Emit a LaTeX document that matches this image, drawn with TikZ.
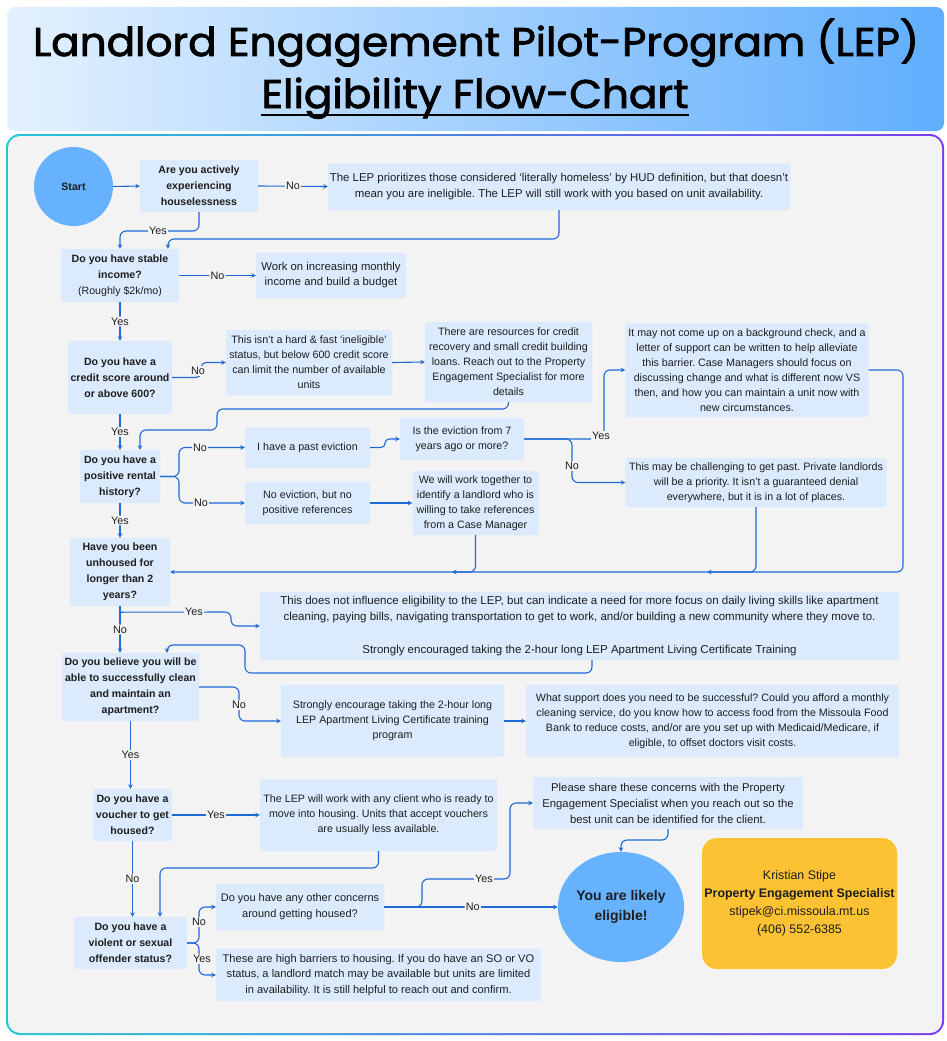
\documentclass[tikz,border=0pt]{standalone}
\usepackage{fontspec}
\setmainfont{Liberation Sans}
\newfontfamily\titlefont[FakeBold=2]{Poppins}
\usetikzlibrary{shapes.geometric,arrows.meta}
\frenchspacing
\definecolor{boxc}{HTML}{DBEAFD}
\definecolor{panelc}{HTML}{F3F3F3}
\definecolor{linec}{HTML}{1F6AD8}
\definecolor{startc}{HTML}{66B2FF}
\definecolor{contactc}{HTML}{FCC233}
\definecolor{txt}{HTML}{1E1E1E}
\definecolor{hdrL}{HTML}{E4F1FE}
\definecolor{hdrR}{HTML}{60AEFD}
\definecolor{bordL}{HTML}{22C7D6}
\definecolor{bordR}{HTML}{7C3AED}
\newcommand\fsz[2]{\fontsize{#1pt}{#2pt}\selectfont}
\tikzset{
  box/.style={fill=boxc, rounded corners=2pt, align=center, inner sep=0pt, text=txt, font=\fsz{10.7}{15}},
  qbox/.style={box, font=\bfseries\fsz{10.6}{16}},
  conn/.style={draw=linec, line width=1.1pt, rounded corners=6pt},
  arr/.style={conn, -{Stealth[length=4.5pt,width=4.5pt]}},
  lab/.style={fill=panelc, inner sep=1.2pt, font=\fsz{10.8}{12}, text=txt},
}
\begin{document}
\frenchspacing
\begin{tikzpicture}[x=1pt,y=-1pt]
\useasboundingbox (0,0) rectangle (947,1041);
\fill[white] (0,0) rectangle (947,1041);
% header
\shade[left color=hdrL, right color=hdrR, rounded corners=8pt] (7,7) rectangle (944,131);
\node[anchor=base, inner sep=0pt] (t1) at (476,56) {\resizebox{886pt}{\height}{\titlefont\fsz{40}{40}Landlord Engagement Pilot-Program (LEP)}};
\node[anchor=base, inner sep=0pt] (t2) at (475,108) {\resizebox{427pt}{\height}{\titlefont\fsz{40}{40}Eligibility Flow-Chart}};
\draw[line width=2.4pt] ([yshift=-7pt]t2.base west) -- ([yshift=-7pt]t2.base east);
% panel
\shade[left color=bordL, right color=bordR, rounded corners=14pt] (6,134) rectangle (944,1035);
\fill[panelc, rounded corners=12pt] (8,136) rectangle (942,1033);

% nodes
\node[circle, fill=startc, minimum size=79pt, inner sep=0pt, text=txt, font=\bfseries\fsz{10.6}{13}] (start) at (73.5,186.5) {Start};
\node[qbox, minimum width=118pt, minimum height=52pt] (q1) at (199,186) {Are you actively\\experiencing\\houselessness};
\node[box, minimum width=462pt, minimum height=47pt, font=\fsz{11.4}{16}] (n1) at (559,186.5) {The LEP prioritizes those considered ‘literally homeless’ by HUD definition, but that doesn’t\\mean you are ineligible. The LEP will still work with you based on unit availability.};
\node[qbox, minimum width=118pt, minimum height=53pt] (q2) at (120,275.5) {Do you have stable\\income?\\\mdseries(Roughly \$2k/mo)};
\node[box, minimum width=150pt, minimum height=45pt, font=\fsz{11.3}{15}] (n2) at (331,275.5) {Work on increasing monthly\\income and build a budget};
\node[qbox, minimum width=104pt, minimum height=73pt] (q3) at (120,377.5) {Do you have a\\credit score around\\or above 600?};
\node[box, minimum width=166pt, minimum height=65pt] (n3a) at (309,362.5) {This isn’t a hard \& fast ‘ineligible’\\status, but below 600 credit score\\can limit the number of available\\units};
\node[box, minimum width=167pt, minimum height=80pt] (n3b) at (508.5,362) {There are resources for credit\\recovery and small credit building\\loans. Reach out to the Property\\Engagement Specialist for more\\details};
\node[qbox, minimum width=80pt, minimum height=53pt] (q4) at (120,476.5) {Do you have a\\positive rental\\history?};
\node[box, minimum width=125pt, minimum height=41pt] (n4a) at (307.5,447.5) {I have a past eviction};
\node[box, minimum width=124pt, minimum height=42pt] (n4b) at (462,439) {Is the eviction from 7\\years ago or more?};
\node[box, minimum width=243pt, minimum height=94pt] (n4c) at (747,370) {It may not come up on a background check, and a\\letter of support can be written to help alleviate\\this barrier. Case Managers should focus on\\discussing change and what is different now VS\\then, and how you can maintain a unit now with\\new circumstances.};
\node[box, minimum width=261pt, minimum height=49pt] (n4d) at (756,482.5) {This may be challenging to get past. Private landlords\\will be a priority. It isn’t a guaranteed denial\\everywhere, but it is in a lot of places.};
\node[box, minimum width=125pt, minimum height=42pt] (n4e) at (307.5,503) {No eviction, but no\\positive references};
\node[box, minimum width=126pt, minimum height=64pt] (n4f) at (475.5,503) {We will work together to\\identify a landlord who is\\willing to take references\\from a Case Manager};
\node[qbox, minimum width=100pt, minimum height=68pt] (q5) at (120,572) {Have you been\\unhoused for\\longer than 2\\years?};
\node[box, minimum width=639pt, minimum height=68pt, font=\fsz{11.5}{16.5}] (n5) at (579.5,626) {This does not influence eligibility to the LEP, but can indicate a need for more focus on daily living skills like apartment\\cleaning, paying bills, navigating transportation to get to work, and/or building a new community where they move to.\\[16pt]Strongly encouraged taking the 2-hour long LEP Apartment Living Certificate Training};
\node[qbox, minimum width=137pt, minimum height=68pt] (q6) at (130.5,687) {Do you believe you will be\\able to successfully clean\\and maintain an\\apartment?};
\node[box, minimum width=223pt, minimum height=72pt] (n6a) at (392.5,721) {Strongly encourage taking the 2-hour long\\LEP Apartment Living Certificate training\\program};
\node[box, minimum width=373pt, minimum height=72pt] (n6b) at (712.5,721) {What support does you need to be successful? Could you afford a monthly\\cleaning service, do you know how to access food from the Missoula Food\\Bank to reduce costs, and/or are you set up with Medicaid/Medicare, if\\eligible, to offset doctors visit costs.};
\node[qbox, minimum width=79pt, minimum height=52pt] (q7) at (132.5,815) {Do you have a\\voucher to get\\housed?};
\node[box, minimum width=237pt, minimum height=72pt] (n7) at (378.5,815) {The LEP will work with any client who is ready to\\move into housing. Units that accept vouchers\\are usually less available.};
\node[qbox, minimum width=113pt, minimum height=52pt] (q8) at (130.5,943) {Do you have a\\violent or sexual\\offender status?};
\node[box, minimum width=168pt, minimum height=46pt, font=\fsz{11}{16}] (n8a) at (300,907) {Do you have any other concerns\\around getting housed?};
\node[box, minimum width=325pt, minimum height=52pt, font=\fsz{11.1}{15.5}] (n8b) at (378.5,975) {These are high barriers to housing. If you do have an SO or VO\\status, a landlord match may be available but units are limited\\in availability. It is still helpful to reach out and confirm.};
\node[box, minimum width=270pt, minimum height=52pt, font=\fsz{11.3}{16}] (n9) at (668,803) {Please share these concerns with the Property\\Engagement Specialist when you reach out so the\\best unit can be identified for the client.};
\node[ellipse, fill=startc, minimum width=124pt, minimum height=110pt, inner sep=0pt, align=center, text=txt, font=\bfseries\fsz{14}{20}] (elig) at (621,907) {You are likely\\eligible!};
\node[fill=contactc, rounded corners=15pt, minimum width=195pt, minimum height=131pt, inner sep=0pt, align=center, text=txt, font=\fsz{12.4}{18}] (contact) at (799.5,903.5) {Kristian Stipe\\\textbf{Property Engagement Specialist}\\stipek@ci.missoula.mt.us\\(406) 552-6385};

% connectors
\draw[arr] (start.east) -- (q1.west);
\draw[arr] (q1.east) -- (n1.west) node[lab, midway] {No};
\draw[arr] (q1.south) -- (199,231) -- (120,231) -- (q2.north);
\node[lab] (l1) at (158,231) {Yes};
\draw[arr] (n1.south) -- (559,239) -- (168,239) -- ([xshift=48pt]q2.north);
\draw[arr] (q2.east) -- (n2.west) node[lab, midway] {No};
\draw[arr] (q2.south) -- (q3.north) node[lab, midway] {Yes};
\draw[arr, rounded corners=5pt] (q3.east) -- (201,377.5) -- (201,362.5) -- (n3a.west);
\node[lab] (l2) at (198,371) {No};
\draw[arr] (n3a.east) -- (n3b.west);
\draw[arr] (n3b.south) -- (508.5,409) -- (217,409) -- (217,430) -- (140,430) -- ([xshift=20pt]q4.north);
\draw[arr] (q3.south) -- (q4.north) node[lab, midway] {Yes};
\draw[arr] (q4.east) -- (179,476.5) -- (179,447.5) -- (n4a.west);
\draw[arr] (q4.east) -- (179,476.5) -- (179,503) -- (n4e.west);
\node[lab] (l3) at (200,447.5) {No};
\node[lab] (l4) at (201,503) {No};
\draw[arr, rounded corners=4pt] (n4a.east) -- (385,447.5) -- (385,439) -- (n4b.west);
\draw[arr] (n4b.east) -- (604,439) -- (604,370) -- (n4c.west);
\draw[arr] (n4b.east) -- (572,439) -- (572,482.5) -- (n4d.west);
\node[lab] (l5) at (601,436) {Yes};
\node[lab] (l6) at (572,466) {No};
\draw[arr] (n4c.east) -- (903,370) -- (903,572) -- (q5.east);
\draw[arr] (n4d.south) -- (756,572) -- (707,572);
\draw[arr] (n4f.south) -- (475.5,572) -- (452,572);
\draw[arr] (n4e.east) -- (n4f.west);
\draw[arr] (q4.south) -- (q5.north) node[lab, midway] {Yes};
\draw[arr] (q5.south) -- (q5.south |- q6.north) node[lab, pos=0.5] {No};
\draw[arr] ([yshift=-6pt]q5.south) -- (231,612) -- (231,626) -- (n5.west);
\node[lab] (l7) at (194,612) {Yes};
\draw[arr] ([xshift=12.5pt]n5.south) -- (592,673) -- (245,673) -- (245,645) -- (167,645) -- ([xshift=36.5pt]q6.north);
\draw[arr] (q6.east) -- (239,687) -- (239,721) -- (n6a.west);
\node[lab] (l8) at (239,705) {No};
\draw[arr] (n6a.east) -- (n6b.west);
\draw[arr] (q6.south) -- (q6.south |- q7.north) node[lab, midway] {Yes};
\draw[arr] (q7.east) -- (n7.west) node[lab, midway] {Yes};
\draw[arr] (q7.south) -- (q7.south |- q8.north) node[lab, midway] {No};
\draw[arr] (n7.south) -- (378.5,868) -- (160,868) -- ([xshift=29.5pt]q8.north);
\draw[arr] (q8.east) -- (199,943) -- (199,907) -- (n8a.west);
\draw[arr] (q8.east) -- (199,943) -- (199,975) -- (n8b.west);
\node[lab] (l9) at (199,922) {No};
\node[lab] (l10) at (202,959) {Yes};
\draw[arr] (n8a.east) -- (elig.west) node[lab, pos=0.51] {No};
\draw[arr] (n8a.east) -- (422,907) -- (422,879) -- (510,879) -- (510,803) -- (n9.west);
\node[lab] (l11) at (484,879) {Yes};
\draw[arr] (n9.south) -- (668,840) -- (621,840) -- (elig.north);
\end{tikzpicture}
\end{document}
